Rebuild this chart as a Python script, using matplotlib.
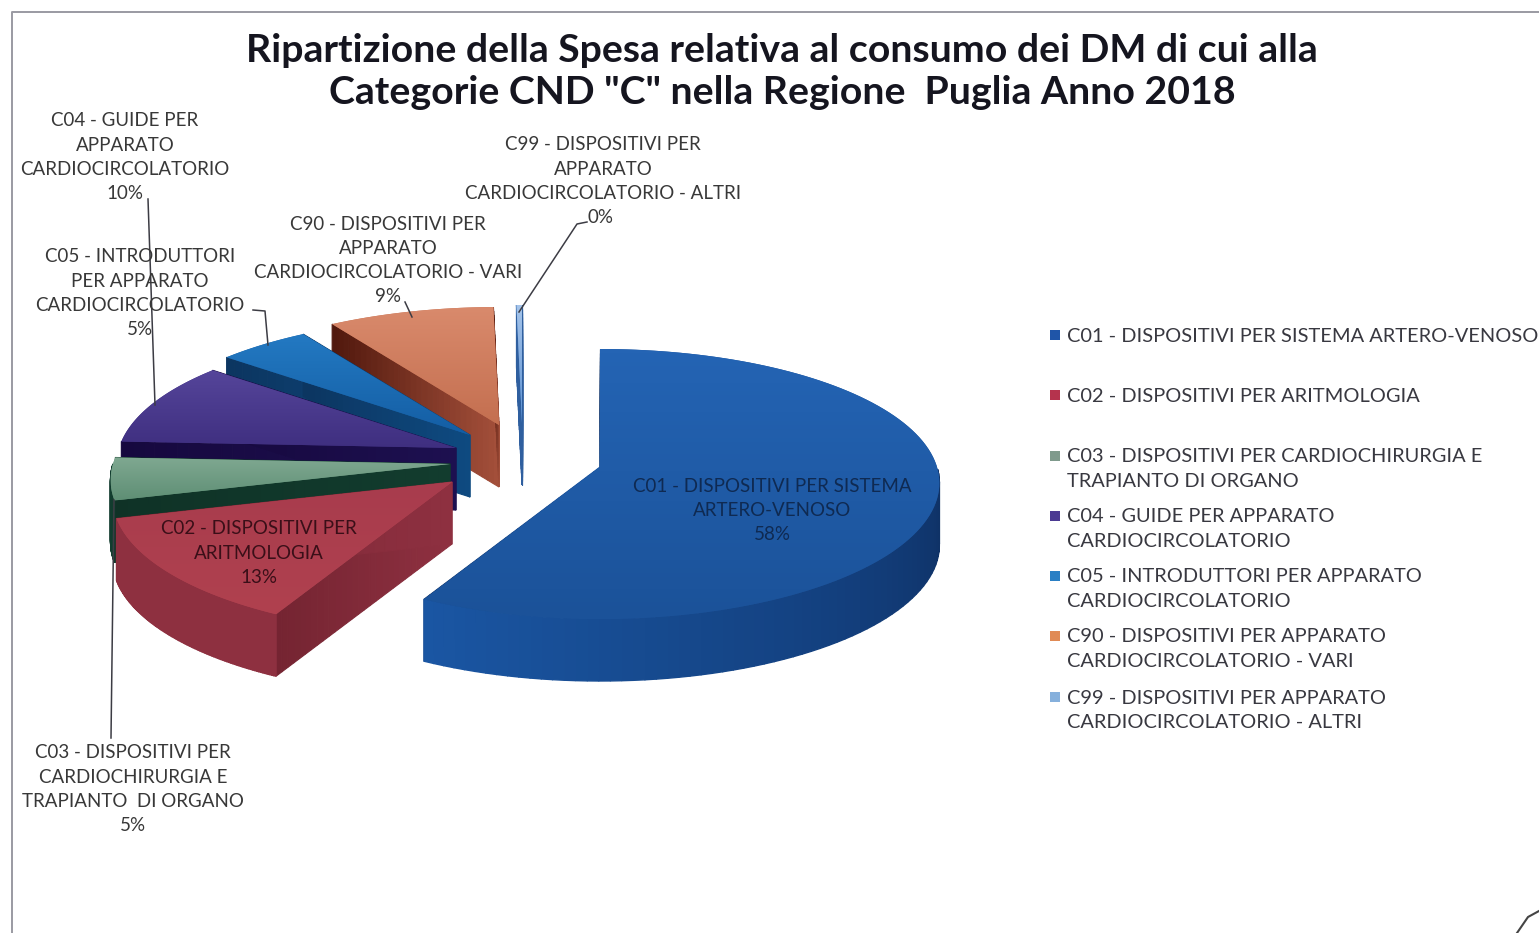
import numpy as np
import matplotlib
matplotlib.use('Agg')
import matplotlib.pyplot as plt
from matplotlib.colors import to_rgb
from matplotlib.patches import Polygon

title_lines = ['Ripartizione della Spesa relativa al consumo dei DM di cui alla',
               'Categorie CND "C" nella Regione  Puglia Anno 2018']
legend_labels = [
    ['C01 - DISPOSITIVI PER SISTEMA ARTERO-VENOSO'],
    ['C02 - DISPOSITIVI PER ARITMOLOGIA'],
    ['C03 - DISPOSITIVI PER CARDIOCHIRURGIA E', 'TRAPIANTO DI ORGANO'],
    ['C04 - GUIDE PER APPARATO', 'CARDIOCIRCOLATORIO'],
    ['C05 - INTRODUTTORI PER APPARATO', 'CARDIOCIRCOLATORIO'],
    ['C90 - DISPOSITIVI PER APPARATO', 'CARDIOCIRCOLATORIO - VARI'],
    ['C99 - DISPOSITIVI PER APPARATO', 'CARDIOCIRCOLATORIO - ALTRI'],
]
data_labels = [
    ['C01 - DISPOSITIVI PER SISTEMA', 'ARTERO-VENOSO'],
    ['C02 - DISPOSITIVI PER', 'ARITMOLOGIA'],
    ['C03 - DISPOSITIVI PER', 'CARDIOCHIRURGIA E', 'TRAPIANTO  DI ORGANO'],
    ['C04 - GUIDE PER', 'APPARATO', 'CARDIOCIRCOLATORIO'],
    ['C05 - INTRODUTTORI', 'PER APPARATO', 'CARDIOCIRCOLATORIO'],
    ['C90 - DISPOSITIVI PER', 'APPARATO', 'CARDIOCIRCOLATORIO - VARI'],
    ['C99 - DISPOSITIVI PER', 'APPARATO', 'CARDIOCIRCOLATORIO - ALTRI'],
]
values = [58, 13, 5, 10, 5, 9, 0.3]

# slice look: top face (light, dark), wall (light, dark)
top_colors = [('#2464b4', '#1b5299'), ('#a83c4d', '#b0414f'), ('#7fa891', '#5f8f75'),
              ('#55459a', '#3f2f80'), ('#2379c2', '#145ea4'), ('#d98a6c', '#c46f50'),
              ('#a5c4ea', '#5f93d3')]
wall_colors = [('#1a56a3', '#0e2f62'), ('#8e3040', '#742431'), ('#123c2e', '#0f3226'),
               ('#1d1050', '#16083e'), ('#0e4a80', '#0c3560'), ('#a34f3a', '#4f170c'),
               ('#2f5f9f', '#2f5f9f')]
legend_colors = ['#1f55a8', '#b5334d', '#7f9a8c', '#4b3a92', '#2a7fc4', '#e08a55', '#86b0dc']

# where each exploded slice has its tip
tips = [(600, 467), (452, 482), (450, 464), (456, 448), (470, 435), (499, 425), (522, 423)]
RX, RY, DEPTH = 337, 135, 62
plot_order = [6, 5, 4, 3, 2, 1, 0]

label_pos = [(772, 486), (259, 529), (133, 753), (125, 121), (140, 257), (388, 224), (603, 145)]
label_colors = ['#0f2a52', '#3a0f18', '#383838', '#383838', '#383838', '#383838', '#383838']
LINE_H = 24.3
leader_lines = {
    2: [(114, 500), (111, 738)],
    3: [(148, 199), (155, 405)],
    4: [(253, 310), (265, 311), (268, 345)],
    5: [(405, 302), (412, 317)],
    6: [(587, 222), (577, 224), (519, 312)],
}
legend_rows = [336, 396, 457, 517, 577, 637, 698]
FONT = 'Lato'


def project(tip, theta):
    s, c = np.sin(theta), np.cos(theta)
    return tip[0] + RX * s * (1 - 0.12 * c), tip[1] - (RY - 17 * c) * c


def lerp(c1, c2, t):
    a, b = np.array(to_rgb(c1)), np.array(to_rgb(c2))
    return tuple(a + (b - a) * t)


def main():
    fig = plt.figure(figsize=(15.39, 9.33), dpi=100, facecolor='white')
    ax = fig.add_axes([0, 0, 1, 1])
    ax.set_xlim(0, 1539)
    ax.set_ylim(933, 0)
    ax.axis('off')

    # chart frame, cut off by the scan on the right and bottom
    ax.plot([12, 12, 1539], [933, 12, 12], color='#9a9aa2', lw=1.4)
    ax.plot([1539, 1528, 1517], [911, 917, 933], color='#444444', lw=1.5)

    for i, line in enumerate(title_lines):
        ax.text(782, 50 + i * 43, line, ha='center', va='center', fontsize=28.3,
                fontweight='bold', family=FONT, color='#15151f')

    bounds = np.cumsum([0] + values) / sum(values) * 2 * np.pi
    for idx in plot_order:
        th = np.linspace(bounds[idx], bounds[idx + 1], 120)
        tip = tips[idx]
        ax_, ay_ = project(tip, th)
        # radial walls, darker towards the rim
        for end in (0, -1):
            px, py = ax_[end], ay_[end]
            rr = np.linspace(0, 1, 31)
            for a, b in zip(rr[:-1], rr[1:]):
                p1 = (tip[0] + (px - tip[0]) * a, tip[1] + (py - tip[1]) * a)
                p2 = (tip[0] + (px - tip[0]) * b, tip[1] + (py - tip[1]) * b)
                col = lerp(*wall_colors[idx], a)
                ax.add_patch(Polygon([p1, p2, (p2[0], p2[1] + DEPTH), (p1[0], p1[1] + DEPTH)],
                                     fc=col, ec=col, lw=0.8, zorder=2))
        # outer wall in thin strips so the shade can run along it, front part only
        for k in range(len(th) - 1):
            if np.cos(th[k]) >= 0:
                continue
            t = np.clip((np.pi * 1.15 - th[k]) / (np.pi * 0.65), 0, 1)
            col = lerp(*wall_colors[idx], t)
            ax.add_patch(Polygon([(ax_[k], ay_[k]), (ax_[k + 1], ay_[k + 1]),
                                  (ax_[k + 1], ay_[k + 1] + DEPTH), (ax_[k], ay_[k] + DEPTH)],
                                 fc=col, ec=col, lw=1.0, zorder=2))
        # top face with a soft gradient
        pts = [tip] + list(zip(ax_, ay_))
        face = Polygon(pts, fc=top_colors[idx][1], ec='none', zorder=3)
        ax.add_patch(face)
        xs, ys = zip(*pts)
        grad = np.array([lerp(*top_colors[idx], t) for t in np.linspace(0, 1, 64)])[:, None, :]
        img = ax.imshow(grad, extent=(min(xs), max(xs), max(ys), min(ys)), aspect='auto', zorder=3)
        img.set_clip_path(face)

    ax.set_xlim(0, 1539)
    ax.set_ylim(933, 0)

    for idx, pts in leader_lines.items():
        ax.plot(*zip(*pts), color='#3c3c44', lw=1.1, zorder=5)

    for idx, lines in enumerate(data_labels):
        x, y = label_pos[idx]
        pct = f'{round(values[idx])}%'
        for j, line in enumerate(lines + [pct]):
            tx, ty = x, y + j * LINE_H
            if idx == 6 and j == 3:
                tx = 601
            ax.text(tx, ty, line, ha='center', va='center', fontsize=13.5, family=FONT,
                    color=label_colors[idx], zorder=6)

    for idx, lines in enumerate(legend_labels):
        ax.scatter([1055], [legend_rows[idx] - 1], marker='s', s=50, color=legend_colors[idx],
                   linewidths=0, zorder=6)
        for j, line in enumerate(lines):
            ax.text(1067, legend_rows[idx] + j * LINE_H, line, ha='left', va='center',
                    fontsize=14.4, family=FONT, color='#383840', zorder=6)

    fig.savefig('out.png', dpi=100)


if __name__ == "__main__":
    main()
